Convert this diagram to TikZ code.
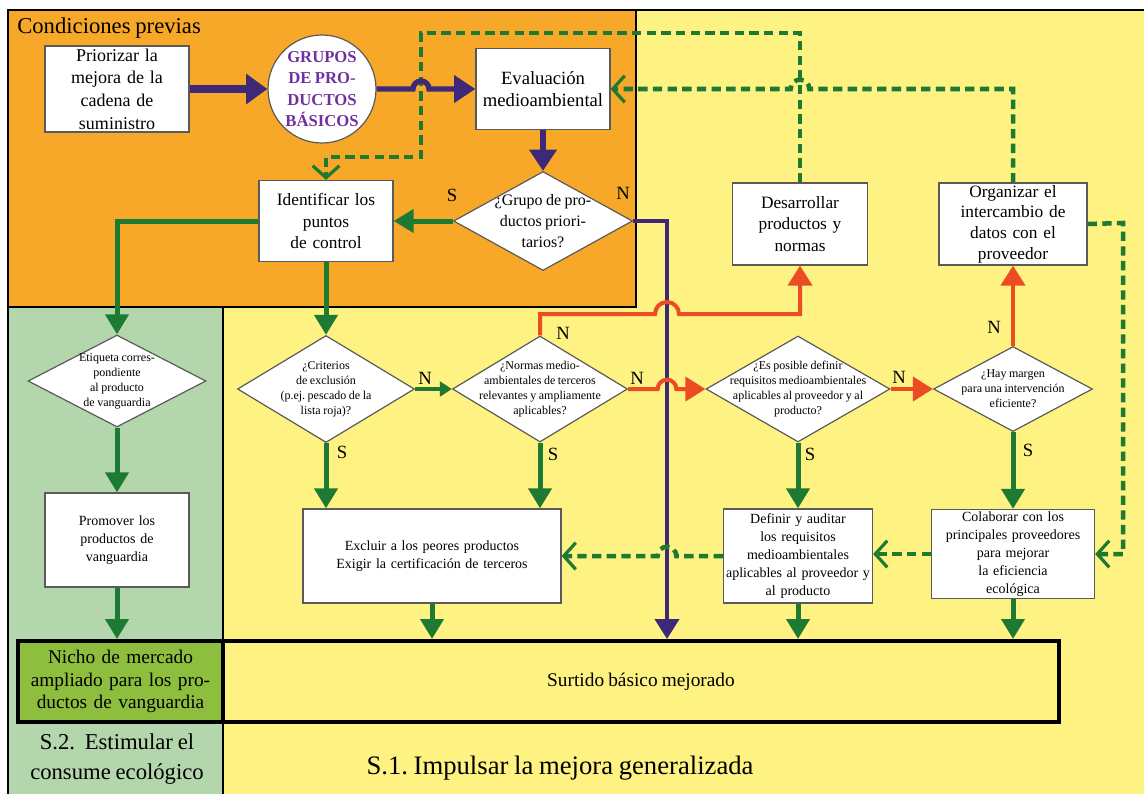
\documentclass[tikz,border=0pt]{standalone}
\usepackage{fontspec}
\setmainfont{Liberation Serif}[WordSpace=0.85]
\usetikzlibrary{arrows.meta,positioning,shapes.geometric,calc}
\definecolor{orangebg}{RGB}{247,168,40}
\definecolor{yellowbg}{RGB}{254,242,130}
\definecolor{greenbg}{RGB}{180,214,172}
\definecolor{nichofill}{RGB}{141,190,62}
\definecolor{purpleline}{RGB}{62,40,120}
\definecolor{purpletext}{RGB}{112,48,160}
\definecolor{greenline}{RGB}{30,122,50}
\definecolor{redline}{RGB}{236,76,36}
\definecolor{boxline}{RGB}{90,90,90}
\newcommand{\fs}[2]{\fontsize{#1pt}{#2pt}\selectfont}
\frenchspacing

\begin{document}
\begin{tikzpicture}[
  x=0.75pt, y=-0.75pt,
  stepbox/.style={draw=boxline, line width=0.9pt, fill=white, align=center, inner sep=0pt},
  query/.style={draw=boxline, line width=0.9pt, fill=white, diamond, inner sep=0pt},
  qlab/.style={align=center, font=\fs{9}{11.25}, inner sep=0pt},
  hub/.style={draw=boxline, line width=0.9pt, fill=white, circle, inner sep=0pt, align=center, text=purpletext, font=\bfseries\fs{12.5}{16}},
  endbox/.style={draw=black, line width=3pt, align=center, inner sep=0pt, font=\fs{14.5}{17}},
  mainflow/.style={draw=purpleline, line width=4pt, -{Triangle[length=16pt,width=20pt]}},
  flow/.style={draw=greenline, line width=3.75pt, -{Triangle[length=15pt,width=17pt]}},
  nflow/.style={draw=redline, line width=3pt, -{Triangle[length=15pt,width=18pt]}},
  feedback/.style={draw=greenline, line width=3.4pt, dash pattern=on 7pt off 4pt, -{Straight Barb[length=9pt,width=20pt,line width=2.4pt]}},
  lab/.style={font=\fs{14}{16}, inner sep=0pt},
  region/.style={draw=black, line width=1.5pt}
]
  \useasboundingbox (0,0) rectangle (1144,794);

  % regions
  \fill[yellowbg] (8,10) rectangle (1144,794);
  \fill[orangebg] (8,10) rectangle (636,307);
  \fill[greenbg] (8,307) rectangle (223,794);
  \draw[region] (1144,10) -- (8,10) -- (8,794);
  \draw[region] (636,10) -- (636,307) -- (8,307);
  \draw[region] (223,307) -- (223,794);

  \node[anchor=west, inner sep=0pt, font=\fs{17}{20}] (pretitle) at (17,28) {Condiciones previas};

  % preconditions
  \node[stepbox, minimum width=108pt, minimum height=64.5pt, text width=104pt, font=\fs{13.5}{17}] (prior) at (117,89) {Priorizar la\\mejora de la\\cadena de\\suministro};
  \node[hub, minimum size=81pt] (grupos) at (322,89) {GRUPOS\\DE PRO-\\DUCTOS\\BÁSICOS};
  \node[stepbox, minimum width=100.5pt, minimum height=60.75pt, text width=98pt, font=\fs{14}{17}] (eval) at (543,89) {Evaluación\\medioambiental};
  \node[query, minimum width=134.25pt, minimum height=74.25pt,
    label={[qlab, font=\fs{12}{15.75}]center:{¿Grupo de pro-\\ductos priori-\\tarios?}}] (prio) at (543,221) {};
  \node[stepbox, minimum width=100.5pt, minimum height=60.75pt, text width=97pt, font=\fs{13}{16}] (ident) at (326,221) {Identificar los\\puntos\\de control};

  % upper right
  \node[stepbox, minimum width=101.25pt, minimum height=61.5pt, text width=97pt, font=\fs{13}{16}] (desarr) at (800,224) {Desarrollar\\productos y\\normas};
  \node[stepbox, minimum width=111pt, minimum height=61.5pt, text width=108pt, font=\fs{13}{15.5}] (organ) at (1013,224) {Organizar el\\intercambio de\\datos con el\\proveedor};

  % decisions
  \node[query, minimum width=133.5pt, minimum height=69pt,
    label={[qlab]center:{Etiqueta corres-\\pondiente\\al producto\\de vanguardia}}] (etiq) at (117,381) {};
  \node[query, minimum width=132.75pt, minimum height=80.25pt,
    label={[qlab]center:{¿Criterios\\de exclusión\\(p.ej. pescado de la\\lista roja)?}}] (crit) at (326,389) {};
  \node[query, minimum width=131.25pt, minimum height=79.5pt,
    label={[qlab]center:{¿Normas medio-\\ambientales de terceros\\relevantes y ampliamente\\aplicables?}}] (normas) at (540,389) {};
  \node[query, minimum width=138pt, minimum height=79.5pt,
    label={[qlab]center:{¿Es posible definir\\requisitos medioambientales\\aplicables al proveedor y al\\producto?}}] (espos) at (798,389) {};
  \node[query, minimum width=119.25pt, minimum height=63.75pt,
    label={[qlab]center:{¿Hay margen\\para una intervención\\eficiente?}}] (hay) at (1013,389) {};

  % actions
  \node[stepbox, minimum width=108pt, minimum height=70.5pt, text width=104pt, font=\fs{10.5}{13.5}] (promo) at (117,540) {Promover los\\productos de\\vanguardia};
  \node[stepbox, minimum width=193.5pt, minimum height=70.5pt, text width=190pt, font=\fs{10.5}{14}] (excl) at (432,556) {Excluir a los peores productos\\Exigir la certificación de terceros};
  \node[stepbox, minimum width=111.75pt, minimum height=70.5pt, text width=110pt, font=\fs{10.5}{13.5}] (defin) at (798,556) {Definir y auditar\\los requisitos\\medioambientales\\aplicables al proveedor y\\al producto};
  \node[stepbox, minimum width=122.25pt, minimum height=66.75pt, text width=120pt, font=\fs{10.5}{13.5}] (colab) at (1013,554) {Colaborar con los\\principales proveedores\\para mejorar\\la eficiencia\\ecológica};

  % results
  \node[endbox, fill=nichofill, minimum width=153.75pt, minimum height=60.75pt, text width=150pt] (nicho) at (120.5,681.5) {Nicho de mercado\\ampliado para los pro-\\ductos de vanguardia};
  \node[endbox, fill=yellowbg, minimum width=627pt, minimum height=60.75pt] (surt) at (641,681.5) {Surtido básico mejorado};

  \node[align=center, inner sep=0pt, font=\fs{17}{22.5}] (s2) at (117,759) {S.2.\ \ Estimular el\\consume ecológico};
  \node[inner sep=0pt, font=\fs{20}{24}] (s1) at (560,768) {S.1. Impulsar la mejora generalizada};

  % lanes
  \coordinate (fbtop) at (421,33);
  \coordinate (fbmid) at (421,157);
  \coordinate (fbright) at (1123,223);
  \coordinate (purx) at (667,221);
  \coordinate (redlane) at (540,314);

  % dashed feedback, upper part
  \draw[feedback] (desarr.north) |- (fbtop) -- (fbmid) -| (ident.north);
  \draw[feedback] (organ.north) |- ($(desarr.north |- eval.east)+(7pt,0)$)
    arc[start angle=0, end angle=180, radius=7pt] -- (eval.east);
  \draw[feedback] (organ.east) -- (fbright) |- (colab.east);

  % purple main path
  \draw[mainflow, line width=5.5pt, -{Triangle[length=16pt,width=22pt]}] (prior.east) -- (grupos.west);
  \draw[mainflow] (grupos.east) -- ($(fbtop |- grupos.east)+(-6pt,0)$)
    arc[start angle=180, end angle=0, radius=6pt] -- (eval.west);
  \draw[mainflow] (eval.south) -- (prio.north);
  \draw[mainflow, line width=3pt, -{Triangle[length=15pt,width=18pt]}] (prio.east) -- (purx) -- (purx |- surt.north);

  % red: answer N
  \draw[nflow] (normas.north) |- ($(purx |- redlane)+(-9pt,0)$)
    arc[start angle=180, end angle=0, radius=9pt] -| (desarr.south);
  \draw[nflow] (normas.east) -- ($(purx |- normas.east)+(-7pt,0)$)
    arc[start angle=180, end angle=0, radius=7pt] -- (espos.west);
  \draw[nflow] (espos.east) -- (hay.west);
  \draw[nflow] (hay.north) -- (organ.south);

  % dashed feedback, lower part
  \draw[feedback] (colab.west) -- (defin.east |- colab.west);
  \draw[feedback] (defin.west) -- ($(purx |- defin.west)+(7pt,0)$)
    arc[start angle=0, end angle=180, radius=7pt] -- (excl.east |- defin.west);

  % green: answer S
  \draw[flow] (prio.west) -- (ident.east |- prio.west);
  \draw[flow] (ident.west) -| (etiq.north);
  \draw[flow] (ident.south) -- (ident.south |- crit.north);
  \draw[flow] (etiq.south) -- (promo.north);
  \draw[flow] (promo.south) -- (promo.south |- nicho.north);
  \draw[flow] (crit.south) -- (crit.south |- excl.north);
  \draw[flow, line width=2.5pt, -{Triangle[length=9pt,width=11pt]}] (crit.east) -- (normas.west);
  \draw[flow] (normas.south) -- (normas.south |- excl.north);
  \draw[flow] (excl.south) -- (excl.south |- surt.north);
  \draw[flow] (espos.south) -- (defin.north);
  \draw[flow] (defin.south) -- (defin.south |- surt.north);
  \draw[flow] (hay.south) -- (colab.north);
  \draw[flow] (colab.south) -- (colab.south |- surt.north);

  % answer labels
  \node[lab] (sprio) at (452,195) {S};
  \node[lab] (nprio) at (623,193) {N};
  \node[lab] (ncrit) at (425,378) {N};
  \node[lab] (scrit) at (342,452) {S};
  \node[lab] (nnormup) at (563,333) {N};
  \node[lab] (nnorm) at (637,378) {N};
  \node[lab] (snorm) at (553,454) {S};
  \node[lab] (sespos) at (810,454) {S};
  \node[lab] (nespos) at (899,377) {N};
  \node[lab] (nhay) at (994,327) {N};
  \node[lab] (shay) at (1028,450) {S};
\end{tikzpicture}
\end{document}
